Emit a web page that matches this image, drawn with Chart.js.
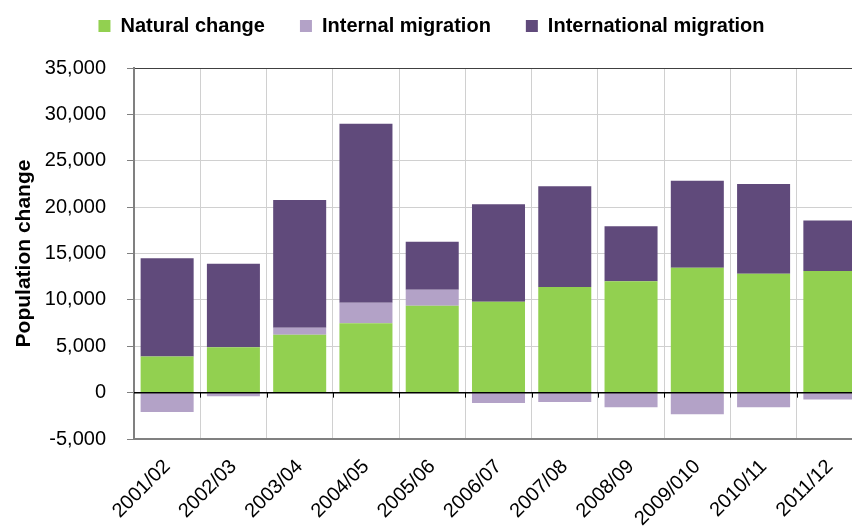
<!DOCTYPE html>
<html>
<head>
<meta charset="utf-8">
<script src="https://cdn.jsdelivr.net/npm/chart.js@4/dist/chart.umd.min.js"></script>
<style>
  html, body { margin: 0; padding: 0; background: #fff; overflow: hidden; }
  #wrap { width: 866px; height: 529px; }
</style>
</head>
<body>
<div id="wrap"><canvas id="myChart"></canvas></div>
<script>
// Data
var categories = ["2001/02", "2002/03", "2003/04", "2004/05", "2005/06", "2006/07",
                  "2007/08", "2008/09", "2009/010", "2010/11", "2011/12"];
var naturalChange = [3900, 4900, 6250, 7480, 9380, 9810, 11390, 12000, 13475, 12830, 13120];
var internalMigration = [-2100, -400, 750, 2220, 1720, -1110, -1000, -1580, -2340, -1580, -750];
var internationalMigration = [10600, 9000, 13770, 19300, 5180, 10490, 10850, 5930, 9380, 9670, 5450];

const FONT = "'Liberation Sans', Arial, sans-serif";

// Give the legend some extra room below it, so the plot starts lower
const legendSpacePlugin = {
  id: "legendSpace",
  beforeLayout(chart) {
    const lg = chart.legend;
    if (lg && !lg._extraSpace) {
      const fit = lg.fit;
      lg.fit = function () {
        fit.call(this);
        this.height += 22;
      };
      lg._extraSpace = true;
    }
  }
};

// Zero line and small tick marks, drawn on top of the bars like Excel does
const zeroLinePlugin = {
  id: "zeroLine",
  afterDatasetsDraw(chart) {
    const ctx = chart.ctx;
    const x = chart.scales.x;
    const y0 = chart.scales.y.getPixelForValue(0);
    ctx.save();
    ctx.strokeStyle = "#000";
    ctx.lineWidth = 1.5;
    ctx.beginPath();
    ctx.moveTo(chart.chartArea.left, y0);
    ctx.lineTo(chart.chartArea.right, y0);
    ctx.stroke();
    ctx.lineWidth = 1;
    for (let i = 1; i < categories.length; i++) {
      const bx = Math.round((x.getPixelForValue(i - 1) + x.getPixelForValue(i)) / 2) + 0.5;
      ctx.beginPath();
      ctx.moveTo(bx, y0);
      ctx.lineTo(bx, y0 + 5);
      ctx.stroke();
    }
    ctx.restore();
  }
};

new Chart(document.getElementById("myChart").getContext("2d"), {
  type: "bar",
  data: {
    labels: categories,
    datasets: [
      { label: "Natural change", data: naturalChange, backgroundColor: "#92D050" },
      { label: "Internal migration", data: internalMigration, backgroundColor: "#B3A2C7" },
      { label: "International migration", data: internationalMigration, backgroundColor: "#604A7B" }
    ]
  },
  options: {
    responsive: true,
    maintainAspectRatio: false,
    animation: false,
    barPercentage: 0.8,
    categoryPercentage: 1,
    layout: { padding: { top: -19, right: 3, left: 0, bottom: 0 } },
    plugins: {
      tooltip: { enabled: false },
      legend: {
        position: "top",
        labels: {
          boxWidth: 12,
          boxHeight: 12,
          padding: 35,
          color: "#000",
          font: { family: FONT, size: 20, weight: "bold" }
        }
      }
    },
    scales: {
      x: {
        stacked: true,
        afterFit: (axis) => { axis.height = 90; },
        grid: { color: "#d0d0d0", drawTicks: false, offset: true },
        border: { color: "#808080", width: 2 },
        ticks: {
          color: "#000",
          minRotation: 45,
          maxRotation: 45,
          padding: 16,
          font: { family: FONT, size: 20 }
        }
      },
      y: {
        stacked: true,
        min: -5000,
        max: 35000,
        afterFit: (axis) => { axis.width = 134; },
        grid: {
          color: (c) => c.tick.value === 35000 ? "#404040" : (c.tick.value === -5000 ? "#808080" : "#d0d0d0"),
          tickColor: "#808080",
          tickLength: 7
        },
        border: { color: "#808080", width: 2 },
        ticks: {
          stepSize: 5000,
          padding: 21,
          color: "#000",
          font: { family: FONT, size: 20 },
          callback: (v) => v.toLocaleString("en-US")
        },
        title: {
          display: true,
          text: "Population change",
          color: "#000",
          padding: { top: 12, bottom: 0 },
          font: { family: FONT, size: 21, weight: "bold" }
        }
      }
    }
  },
  plugins: [legendSpacePlugin, zeroLinePlugin]
});
</script>
</body>
</html>
